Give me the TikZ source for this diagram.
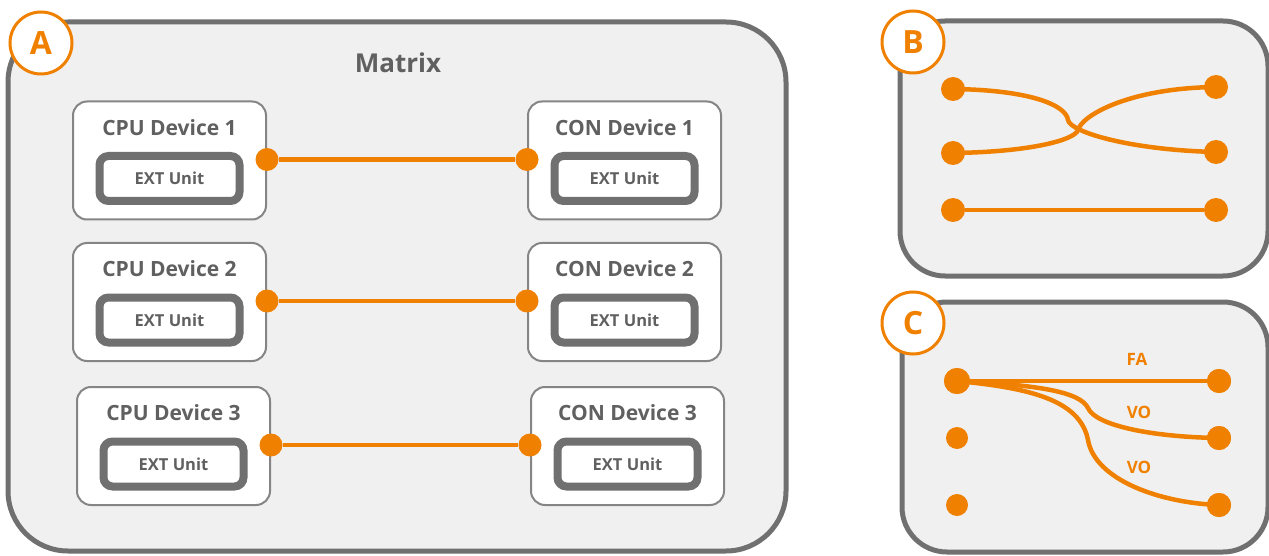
\documentclass[tikz,border=0pt]{standalone}
\usepackage{fontspec}
\setmainfont{Open Sans}
\definecolor{accent}{HTML}{F08000}
\definecolor{frame}{HTML}{707070}
\definecolor{panel}{HTML}{F0F0F0}
\definecolor{label}{HTML}{606060}
\tikzset{
  panelbox/.style={draw=frame, line width=5pt, fill=panel},
  devbox/.style={draw=frame!85, line width=2pt, fill=white, rounded corners=14pt,
    minimum width=193pt, minimum height=118pt, inner sep=0pt},
  devtitle/.style={text=label, font=\bfseries\fontsize{21}{21}\selectfont},
  extbox/.style={draw=frame, line width=8pt, fill=white, rounded corners=9pt,
    minimum width=140pt, minimum height=45pt, inner sep=0pt, text=label,
    font=\bfseries\fontsize{16.5}{16.5}\selectfont},
  tag/.style={circle, draw=accent, line width=3pt, fill=white, minimum size=62pt,
    inner sep=0pt, text=accent, font=\bfseries\fontsize{32}{32}\selectfont},
  port/.style={circle, fill=accent, minimum size=23pt, inner sep=0pt},
  dot/.style={circle, fill=accent, minimum size=24pt, inner sep=0pt},
  link/.style={draw=accent, line width=4.5pt},
  linklabel/.style={text=accent, font=\bfseries\fontsize{17}{17}\selectfont},
}
\begin{document}
\begin{tikzpicture}[x=1pt, y=-1pt]
  \useasboundingbox (0,0) rectangle (1269,556);

  % Panel A: matrix
  \draw[panelbox, rounded corners=60pt] (8,22) rectangle (786,551);
  \node[tag] (tagA) at (41,43) {A};
  \node[text=label, font=\bfseries\fontsize{26}{26}\selectfont] (matrix) at (398,63) {Matrix};

  % Device pairs
  \foreach \i/\y/\cx/\kx in {1/160.5/169.5/624.5, 2/302/169.5/624.5, 3/446/173.5/627.5} {
    \node[devbox] (cpu\i) at (\cx,\y) {};
    \node[devtitle] (cpu\i t) at (\cx,\y-33) {CPU Device \i};
    \node[extbox] (cpu\i e) at (\cx,\y+18) {EXT Unit};
    \node[devbox] (con\i) at (\kx,\y) {};
    \node[devtitle] (con\i t) at (\kx,\y-33) {CON Device \i};
    \node[extbox] (con\i e) at (\kx,\y+18) {EXT Unit};
    \node[port] (cpu\i p) at ([yshift=1pt]cpu\i.east) {};
    \node[port] (con\i p) at ([yshift=1pt]con\i.west) {};
    \draw[link] (cpu\i p) -- (con\i p);
  }

  % Panel B: crossed links
  \draw[panelbox, rounded corners=45pt] (900,21) rectangle (1268,276);
  \node[tag] (tagB) at (913,42) {B};
  \node[dot] (bl1) at (953,89) {};
  \node[dot] (bl2) at (953,153) {};
  \node[dot] (bl3) at (953,210) {};
  \node[dot] (br1) at (1216,87) {};
  \node[dot] (br2) at (1216,152) {};
  \node[dot] (br3) at (1216,210) {};
  \draw[link] (bl1.center) .. controls (1030,90) and (1066,105) .. (1068,120)
    .. controls (1070,132) and (1130,150) .. (br2.center);
  \draw[link] (bl2.center) .. controls (1030,152) and (1075,140) .. (1078,130)
    .. controls (1082,115) and (1130,88) .. (br1.center);
  \draw[link] (bl3) -- (br3);

  % Panel C: fan-out
  \draw[panelbox, rounded corners=45pt] (902,302) rectangle (1268,552);
  \node[tag] (tagC) at (913,323) {C};
  \node[dot, minimum size=26pt] (cl1) at (957,381) {};
  \node[dot, minimum size=22pt] (cl2) at (957,438) {};
  \node[dot, minimum size=22pt] (cl3) at (957,505) {};
  \node[dot] (cr1) at (1219,381) {};
  \node[dot] (cr2) at (1219,438) {};
  \node[dot] (cr3) at (1219,505) {};
  \draw[link] (cl1.center) -- (cr1.center);
  \draw[link] (cl1.center) .. controls (1040,385) and (1080,392) .. (1088,408)
    .. controls (1095,425) and (1150,437) .. (cr2.center);
  \draw[link] (cl1.center) .. controls (1030,388) and (1080,400) .. (1088,440)
    .. controls (1095,480) and (1160,503) .. (cr3.center);
  \node[dot, minimum size=26pt] at (cl1) {};
  \foreach \n in {cr1, cr2, cr3} \node[dot] at (\n) {};
  \node[linklabel] (fa) at (1137,359) {FA};
  \node[linklabel] (vo1) at (1139,412) {VO};
  \node[linklabel] (vo2) at (1139,467) {VO};
\end{tikzpicture}
\end{document}
